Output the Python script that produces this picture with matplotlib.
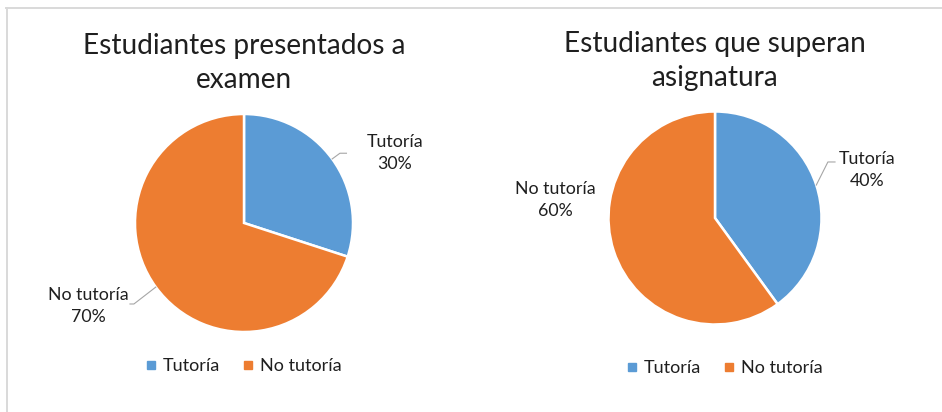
import matplotlib
matplotlib.use("Agg")
import matplotlib.pyplot as plt
from matplotlib.lines import Line2D
import numpy as np

# ---------------------------------------------------
# Datos
# ---------------------------------------------------
categorias = ["Tutoría", "No tutoría"]
titulos = ["Estudiantes presentados a\nexamen", "Estudiantes que superan\nasignatura"]
presentados = [30, 70]
superan = [40, 60]

colores = ["#5B9BD5", "#ED7D31"]
texto_color = "#1f1f1f"

plt.rcParams["font.family"] = ["Lato", "DejaVu Sans"]

W, H = 942, 412
fig = plt.figure(figsize=(W / 100, H / 100), dpi=100)


def px_axes(cx, cy, r):
    # pixel (desde arriba) -> rectángulo en coords de figura
    return [(cx - r) / W, (H - cy - r) / H, 2 * r / W, 2 * r / H]


# layout por gráfico: centro, radio, título, etiquetas, leyenda
layout = [
    dict(cx=244, cy=223, r=109, title_y=63,
         label_pos=[(1.385, 0.64), (-1.43, -0.76)],
         leader=[[(0.88, 0.64), (0.94, 0.64)], [(-1.01, -0.743), (-1.046, -0.743)]],
         legend=(243, 366)),
    dict(cx=715, cy=218, r=106.5, title_y=61,
         label_pos=[(1.43, 0.45), (-1.50, 0.17)],
         leader=[[(1.06, 0.526), (1.127, 0.526)], None],
         legend=(724, 368)),
]

for valores, titulo, lay in zip([presentados, superan], titulos, layout):
    ax = fig.add_axes(px_axes(lay["cx"], lay["cy"], lay["r"]))
    wedges, _ = ax.pie(
        valores,
        colors=colores,
        startangle=90,
        counterclock=False,
        radius=1.0,
        wedgeprops=dict(edgecolor="white", linewidth=1.8),
    )
    ax.set_xlim(-1, 1)
    ax.set_ylim(-1, 1)
    ax.set_aspect("auto")
    ax.axis("off")

    total = sum(valores)
    for w, v, cat, pos, lead in zip(wedges, valores, categorias,
                                    lay["label_pos"], lay["leader"]):
        ax.text(pos[0], pos[1], f"{cat}\n{v / total:.0%}",
                ha="center", va="center", fontsize=12.8,
                color=texto_color, linespacing=1.45, clip_on=False)
        if lead is not None:
            ang = np.deg2rad((w.theta1 + w.theta2) / 2)
            xs = [np.cos(ang)] + [p[0] for p in lead]
            ys = [np.sin(ang)] + [p[1] for p in lead]
            ax.plot(xs, ys, color="#a6a6a6", linewidth=0.8, clip_on=False)

    fig.text(lay["cx"] / W, 1 - lay["title_y"] / H, titulo,
             ha="center", va="center", fontsize=20.2, color=texto_color,
             linespacing=1.35)

    handles = [Line2D([], [], marker="s", linestyle="none", markersize=6,
                      markerfacecolor=c, markeredgecolor=c) for c in colores]
    fig.legend(handles, categorias, loc="center",
               bbox_to_anchor=(lay["legend"][0] / W, 1 - lay["legend"][1] / H),
               ncol=2, frameon=False, fontsize=13, handletextpad=0.3,
               columnspacing=1.2, handlelength=0.7, labelcolor=texto_color)

# marco gris del área
borde = "#d9d9d9"
fig.add_artist(Line2D([6 / W, 1], [1 - 7.5 / H, 1 - 7.5 / H],
                      transform=fig.transFigure, color=borde, linewidth=1.4))
fig.add_artist(Line2D([6.5 / W, 6.5 / W], [0, 1 - 7.5 / H],
                      transform=fig.transFigure, color=borde, linewidth=1.4))

fig.savefig("out.png", dpi=100, facecolor="white")
